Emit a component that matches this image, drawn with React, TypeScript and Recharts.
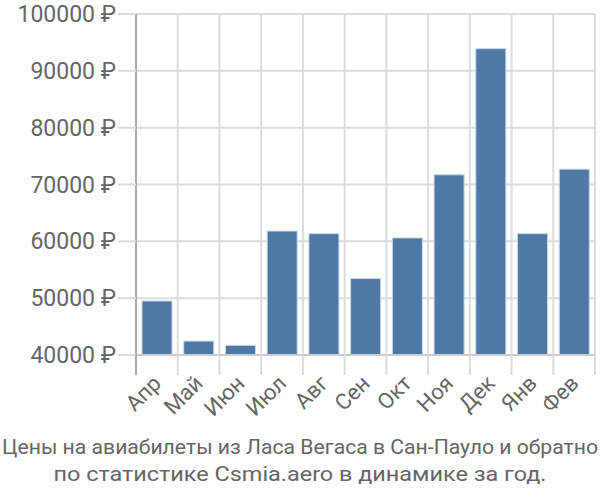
import React from "react";
import { BarChart, Bar, XAxis, YAxis, CartesianGrid } from "recharts";

const months = ["Апр", "Май", "Июн", "Июл", "Авг", "Сен", "Окт", "Ноя", "Дек", "Янв", "Фев"];
const prices = [49500, 42450, 41700, 61800, 61350, 53450, 60600, 71700, 93900, 61350, 72700];
const yTicks = [40000, 50000, 60000, 70000, 80000, 90000, 100000];
const captionLines = [
  "Цены на авиабилеты из Ласа Вегаса в Сан-Пауло и обратно",
  "по статистике Csmia.aero в динамике за год.",
];

const data = months.map((m, i) => ({ month: m, price: prices[i] }));

const TEXT = "#666666";
const GRID = "#dddddd";
const FONT = "Roboto, sans-serif";

// band boundaries for vertical grid lines
const bandLines = ({ offset }: any) => {
  const step = offset.width / months.length;
  return Array.from({ length: months.length + 1 }, (_, i) => offset.left + i * step);
};

const MonthTick = ({ x, y, payload, index }: any) => {
  const step = 458.7 / months.length;
  const left = x - step / 2;
  const ax = x - 6;
  const ay = y + 10;
  return (
    <g>
      <line x1={left} y1={y - 8} x2={left} y2={y + 12} stroke={index === 0 ? "#aaaaaa" : GRID} strokeWidth={2} />
      {index === months.length - 1 && (
        <line x1={x + step / 2} y1={y - 8} x2={x + step / 2} y2={y + 12} stroke={GRID} strokeWidth={2} />
      )}
      <text
        x={ax}
        y={ay}
        dy="0.75em"
        textAnchor="end"
        fill={TEXT}
        fontSize={22}
        fontFamily={FONT}
        transform={`rotate(-45 ${ax} ${ay})`}
      >
        {payload.value}
      </text>
    </g>
  );
};

export default function App() {
  return (
    <div style={{ position: "absolute", left: 0, top: 0, width: 600, height: 500, background: "#fff" }}>
      <BarChart
        width={600}
        height={500}
        data={data}
        margin={{ top: 14, right: 5, left: 0, bottom: 0 }}
        barSize={30}
      >
        <CartesianGrid stroke={GRID} strokeWidth={2} verticalCoordinatesGenerator={bandLines} />
        <XAxis
          dataKey="month"
          height={145}
          interval={0}
          tickLine={false}
          axisLine={{ stroke: "#cccccc", strokeWidth: 2 }}
          tick={<MonthTick />}
        />
        <YAxis
          width={136}
          domain={[40000, 100000]}
          ticks={yTicks}
          interval={0}
          tickSize={18}
          tickLine={{ stroke: GRID, strokeWidth: 2 }}
          axisLine={{ stroke: "#aaaaaa", strokeWidth: 2 }}
          tickFormatter={(v: number) => `${v} ₽`}
          tick={{ fill: TEXT, fontSize: 23, fontFamily: FONT }}
        />
        <Bar dataKey="price" fill="#4e78a6" stroke="#c8d6e6" strokeWidth={1} isAnimationActive={false} />
      </BarChart>
      <svg width={600} height={70} style={{ position: "absolute", left: 0, top: 425 }}>
        {captionLines.map((line, i) => (
          <text
            key={i}
            x={300}
            y={29 + i * 27}
            textAnchor="middle"
            fill={TEXT}
            fontSize={20}
            fontFamily="'Liberation Sans Narrow', 'Roboto', sans-serif"
            textLength={i === 0 ? 596 : 493}
            lengthAdjust="spacingAndGlyphs"
          >
            {line}
          </text>
        ))}
      </svg>
    </div>
  );
}
